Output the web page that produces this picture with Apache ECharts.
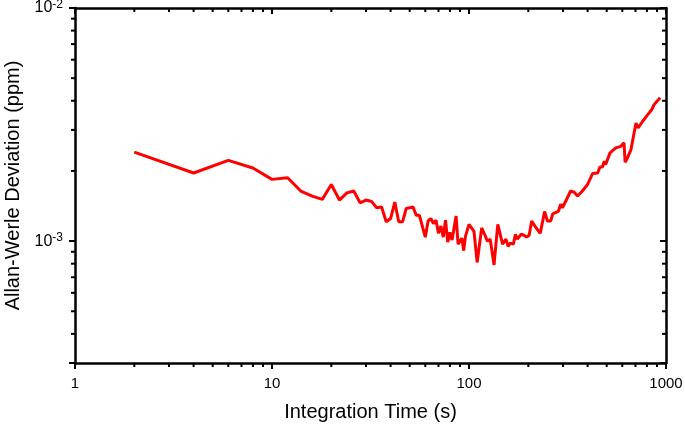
<!DOCTYPE html>
<html><head><meta charset="utf-8">
<script src="https://cdn.jsdelivr.net/npm/echarts@6/dist/echarts.min.js"></script>
<style>html,body{margin:0;padding:0;background:#fff}#c{width:685px;height:425px}</style>
</head><body><div id="c"></div>
<script>
// Integration time (s)
const tau = [
  2,4,6,8,10,12,14,16,18,20,
  22,24,26,28,30,32,34,36,38,40,
  42,44,46,48,50,52,54,56,
  60,62,64,66,68,70,72,74,76,78,
  80,82,86,88,92,94,96,100,102,106,
  110,116,120,124,128,130,134,140,148,154,
  158,162,168,172,176,184,190,196,202,208,
  216,230,242,250,260,266,284,292,298,314,
  328,342,356,376,400,424,450,462,476,486,
  494,520,556,590,612,620,638,664,704,722,
  760,806,846,870,898,934
];
// Allan-Werle deviation (ppm)
const adev = [
  2.41e-3,1.96e-3,2.22e-3,2.06e-3,1.84e-3,1.87e-3,1.64e-3,1.56e-3,1.51e-3,1.75e-3,
  1.50e-3,1.61e-3,1.64e-3,1.46e-3,1.50e-3,1.48e-3,1.39e-3,1.40e-3,1.21e-3,1.25e-3,
  1.47e-3,1.21e-3,1.21e-3,1.38e-3,1.39e-3,1.40e-3,1.29e-3,1.29e-3,
  1.04e-3,1.22e-3,1.25e-3,1.19e-3,1.23e-3,1.08e-3,1.16e-3,1.04e-3,1.23e-3,0.99e-3,
  1.09e-3,1.01e-3,1.28e-3,0.97e-3,1.03e-3,0.91e-3,1.05e-3,1.18e-3,1.17e-3,1.10e-3,
  0.81e-3,1.14e-3,1.07e-3,1.00e-3,1.02e-3,0.94e-3,0.79e-3,1.18e-3,0.97e-3,1.02e-3,
  0.95e-3,0.98e-3,0.97e-3,1.07e-3,1.02e-3,1.07e-3,1.06e-3,1.04e-3,1.06e-3,1.22e-3,
  1.16e-3,1.08e-3,1.34e-3,1.22e-3,1.22e-3,1.31e-3,1.34e-3,1.44e-3,1.39e-3,1.52e-3,
  1.64e-3,1.62e-3,1.56e-3,1.64e-3,1.75e-3,1.95e-3,1.96e-3,2.08e-3,2.08e-3,2.20e-3,
  2.13e-3,2.39e-3,2.51e-3,2.55e-3,2.64e-3,2.18e-3,2.28e-3,2.47e-3,3.21e-3,3.06e-3,
  3.26e-3,3.48e-3,3.66e-3,3.85e-3,3.97e-3,4.12e-3
];
const xTickLabels = ['1','10','100','1000'];
const yTickExponents = [-2, -3];
const xRange = [1, 1000];
const yRange = [3e-4, 1e-2];
const xTitle = 'Integration Time (s)';
const yTitle = 'Allan-Werle Deviation (ppm)';

const FONT = '"Liberation Sans", Arial, sans-serif';
const chart = echarts.init(document.getElementById('c'), null, {renderer: 'canvas'});
const axisLineStyle = {color: '#000', width: 2.5};
const tickStyle = {color: '#000', width: 2};

function xFmt(v) {
  const s = String(Math.round(v));
  return xTickLabels.indexOf(s) >= 0 ? s : '';
}
function yFmt(v) {
  const e = Math.round(Math.log10(v));
  if (Math.abs(v / Math.pow(10, e) - 1) > 1e-6 || yTickExponents.indexOf(e) < 0) return '';
  return '{b|10}{s|' + e + '}';
}

const data = [];
for (let i = 0; i < Math.min(tau.length, adev.length); i++) data.push([tau[i], adev[i]]);

chart.setOption({
  animation: false,
  backgroundColor: '#fff',
  grid: {left: 75, top: 8, width: 591, height: 355, containLabel: false, outerBoundsMode: 'none'},
  xAxis: [
    {type: 'log', logBase: 10, min: xRange[0], max: xRange[1], position: 'bottom',
     axisLine: {show: true, onZero: false, lineStyle: axisLineStyle},
     axisTick: {show: true, inside: false, length: 6, lineStyle: tickStyle},
     splitLine: {show: false}, minorTick: {show: false},
     axisLabel: {formatter: xFmt, fontSize: 15, color: '#000', fontFamily: FONT, margin: 13},
     name: xTitle, nameLocation: 'middle', nameGap: 39,
     nameTextStyle: {fontSize: 20, color: '#000', fontFamily: FONT}},
    {type: 'log', logBase: 10, min: xRange[0], max: xRange[1], position: 'top',
     axisLine: {show: true, onZero: false, lineStyle: axisLineStyle},
     axisTick: {show: true, inside: true, length: 6, lineStyle: tickStyle},
     splitLine: {show: false}, axisLabel: {show: false}}
  ],
  yAxis: [
    {type: 'log', logBase: 10, min: yRange[0], max: yRange[1], position: 'left',
     axisLine: {show: true, onZero: false, lineStyle: axisLineStyle},
     axisTick: {show: true, inside: false, length: 6, lineStyle: tickStyle},
     splitLine: {show: false},
     axisLabel: {formatter: yFmt, color: '#000', fontFamily: FONT, margin: 12,
       rich: {
         b: {fontSize: 16, lineHeight: 18, fontFamily: FONT, color: '#000'},
         s: {fontSize: 12, lineHeight: 9, verticalAlign: 'top', fontFamily: FONT, color: '#000'}
       }},
     name: yTitle, nameLocation: 'middle', nameGap: 50,
     nameTextStyle: {fontSize: 20, color: '#000', fontFamily: FONT}},
    {type: 'log', logBase: 10, min: yRange[0], max: yRange[1], position: 'right',
     axisLine: {show: true, onZero: false, lineStyle: axisLineStyle},
     axisTick: {show: true, inside: true, length: 6, lineStyle: tickStyle},
     splitLine: {show: false}, axisLabel: {show: false}}
  ],
  series: [{
    type: 'line', xAxisIndex: 0, yAxisIndex: 0, data: data,
    showSymbol: false, symbol: 'none',
    lineStyle: {color: '#ff0000', width: 3}, itemStyle: {color: '#ff0000'}
  }]
});

// minor log ticks, placed through the axis scales
const g = [];
const xl = chart.convertToPixel({xAxisIndex: 0}, xRange[0]);
const xr = chart.convertToPixel({xAxisIndex: 0}, xRange[1]);
const yb = chart.convertToPixel({yAxisIndex: 0}, yRange[0]);
const yt = chart.convertToPixel({yAxisIndex: 0}, yRange[1]);
const mLen = 4;
function tick(x1, y1, x2, y2) {
  g.push({type: 'line', silent: true, z: 10,
    shape: {x1: x1, y1: y1, x2: x2, y2: y2},
    style: {stroke: '#000', lineWidth: 2}});
}
for (let d = 1; d < 1000; d *= 10) {
  for (let k = 2; k <= 9; k++) {
    const v = k * d;
    if (v <= xRange[0] || v >= xRange[1]) continue;
    const px = chart.convertToPixel({xAxisIndex: 0}, v);
    tick(px, yb, px, yb + mLen);
    tick(px, yt, px, yt + mLen);
  }
}
for (let d = 1e-4; d < 1e-2; d *= 10) {
  for (let k = 2; k <= 9; k++) {
    const v = k * d;
    if (v <= yRange[0] * 1.0001 || v >= yRange[1]) continue;
    const py = chart.convertToPixel({yAxisIndex: 0}, v);
    tick(xl - mLen, py, xl, py);
    tick(xr, py, xr - mLen, py);
  }
}
chart.setOption({graphic: g});
</script>
</body></html>
